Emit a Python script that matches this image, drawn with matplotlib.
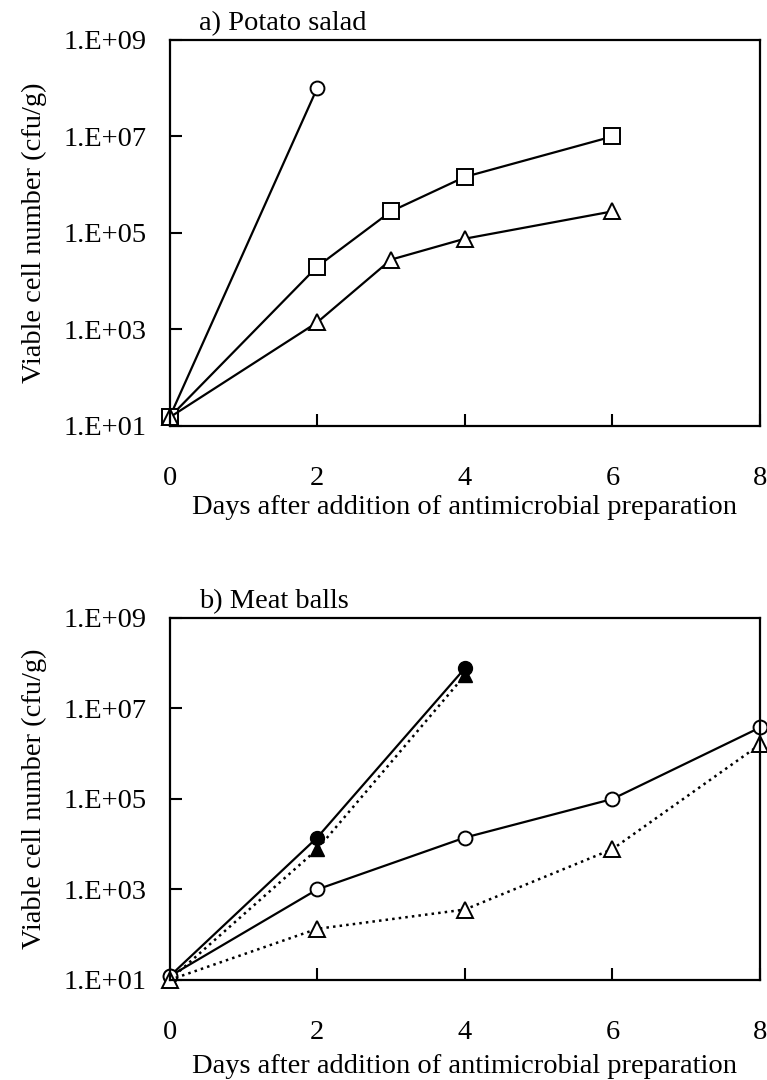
import matplotlib
matplotlib.use('Agg')
import matplotlib.pyplot as plt
from matplotlib.ticker import FixedLocator, NullLocator

plt.rcParams['font.family'] = ['Liberation Serif', 'DejaVu Serif']

# a) potato salad
days_a_circle = [0, 2]
cfu_a_circle = [15, 1.0e8]
days_a_square = [0, 2, 3, 4, 6]
cfu_a_square = [15, 2.0e4, 2.8e5, 1.45e6, 1.0e7]
days_a_tri = [0, 2, 3, 4, 6]
cfu_a_tri = [15, 1.4e3, 2.8e4, 7.6e4, 2.8e5]

# b) meat balls
days_b_fcircle = [0, 2, 4]
cfu_b_fcircle = [12, 1.4e4, 7.7e7]
days_b_ftri = [0, 2, 4]
cfu_b_ftri = [10, 7.7e3, 5.4e7]
days_b_ocircle = [0, 2, 4, 6, 8]
cfu_b_ocircle = [12, 1.0e3, 1.4e4, 1.0e5, 3.8e6]
days_b_otri = [0, 2, 4, 6, 8]
cfu_b_otri = [10, 1.35e2, 3.6e2, 7.8e3, 1.6e6]

yticks = [1e1, 1e3, 1e5, 1e7, 1e9]
ylabels = ['1.E+01', '1.E+03', '1.E+05', '1.E+07', '1.E+09']
xticks = [0, 2, 4, 6, 8]

fs = 20.5

fig = plt.figure(figsize=(7.67, 10.8), dpi=100)
ax1 = fig.add_axes([0.221, 0.6056, 0.770, 0.3574])
ax2 = fig.add_axes([0.221, 0.0926, 0.770, 0.3352])


def style(ax, title, xpad):
    ax.set_yscale('log')
    ax.set_xlim(0, 8)
    ax.set_ylim(1e1, 1e9)
    ax.yaxis.set_major_locator(FixedLocator(yticks))
    ax.yaxis.set_minor_locator(NullLocator())
    ax.set_yticklabels(ylabels)
    ax.set_xticks(xticks)
    ax.tick_params(axis='y', direction='in', length=8.5, width=1.5, labelsize=fs, pad=16.5)
    ax.tick_params(axis='x', direction='in', length=8.5, width=1.5, labelsize=fs, pad=29)
    for s in ax.spines.values():
        s.set_linewidth(1.6)
    ax.set_ylabel('Viable cell number (cfu/g)', fontsize=fs, labelpad=12)
    ax.set_xlabel('Days after addition of antimicrobial preparation', fontsize=fs, labelpad=xpad)
    ax.annotate(title, xy=(0.05, 1.0), xycoords='axes fraction', xytext=(0, 7),
                textcoords='offset points', fontsize=fs, ha='left', va='baseline')


style(ax1, 'a) Potato salad', 3)
style(ax2, 'b) Meat balls', 6.5)

kw = dict(color='black', lw=1.6, mfc='white', mec='black', mew=1.4, clip_on=False)
ax1.plot(days_a_circle, cfu_a_circle, 'o-', ms=10, **kw)
ax1.plot(days_a_square, cfu_a_square, 's-', ms=12, **kw)
ax1.plot(days_a_tri, cfu_a_tri, '^-', ms=11, **kw)

ax2.plot(days_b_ftri, cfu_b_ftri, '^', ls=':', ms=10, color='black', lw=1.8, mfc='black',
         mec='black', clip_on=False)
ax2.plot(days_b_fcircle, cfu_b_fcircle, 'o-', ms=10, color='black', lw=1.6, mfc='black',
         mec='black', clip_on=False)
ax2.plot(days_b_ocircle, cfu_b_ocircle, 'o-', ms=10, **kw)
kw_d = dict(kw)
kw_d['lw'] = 1.8
ax2.plot(days_b_otri, cfu_b_otri, '^', ls=':', ms=11, **kw_d)

fig.savefig('out.png', dpi=100)
